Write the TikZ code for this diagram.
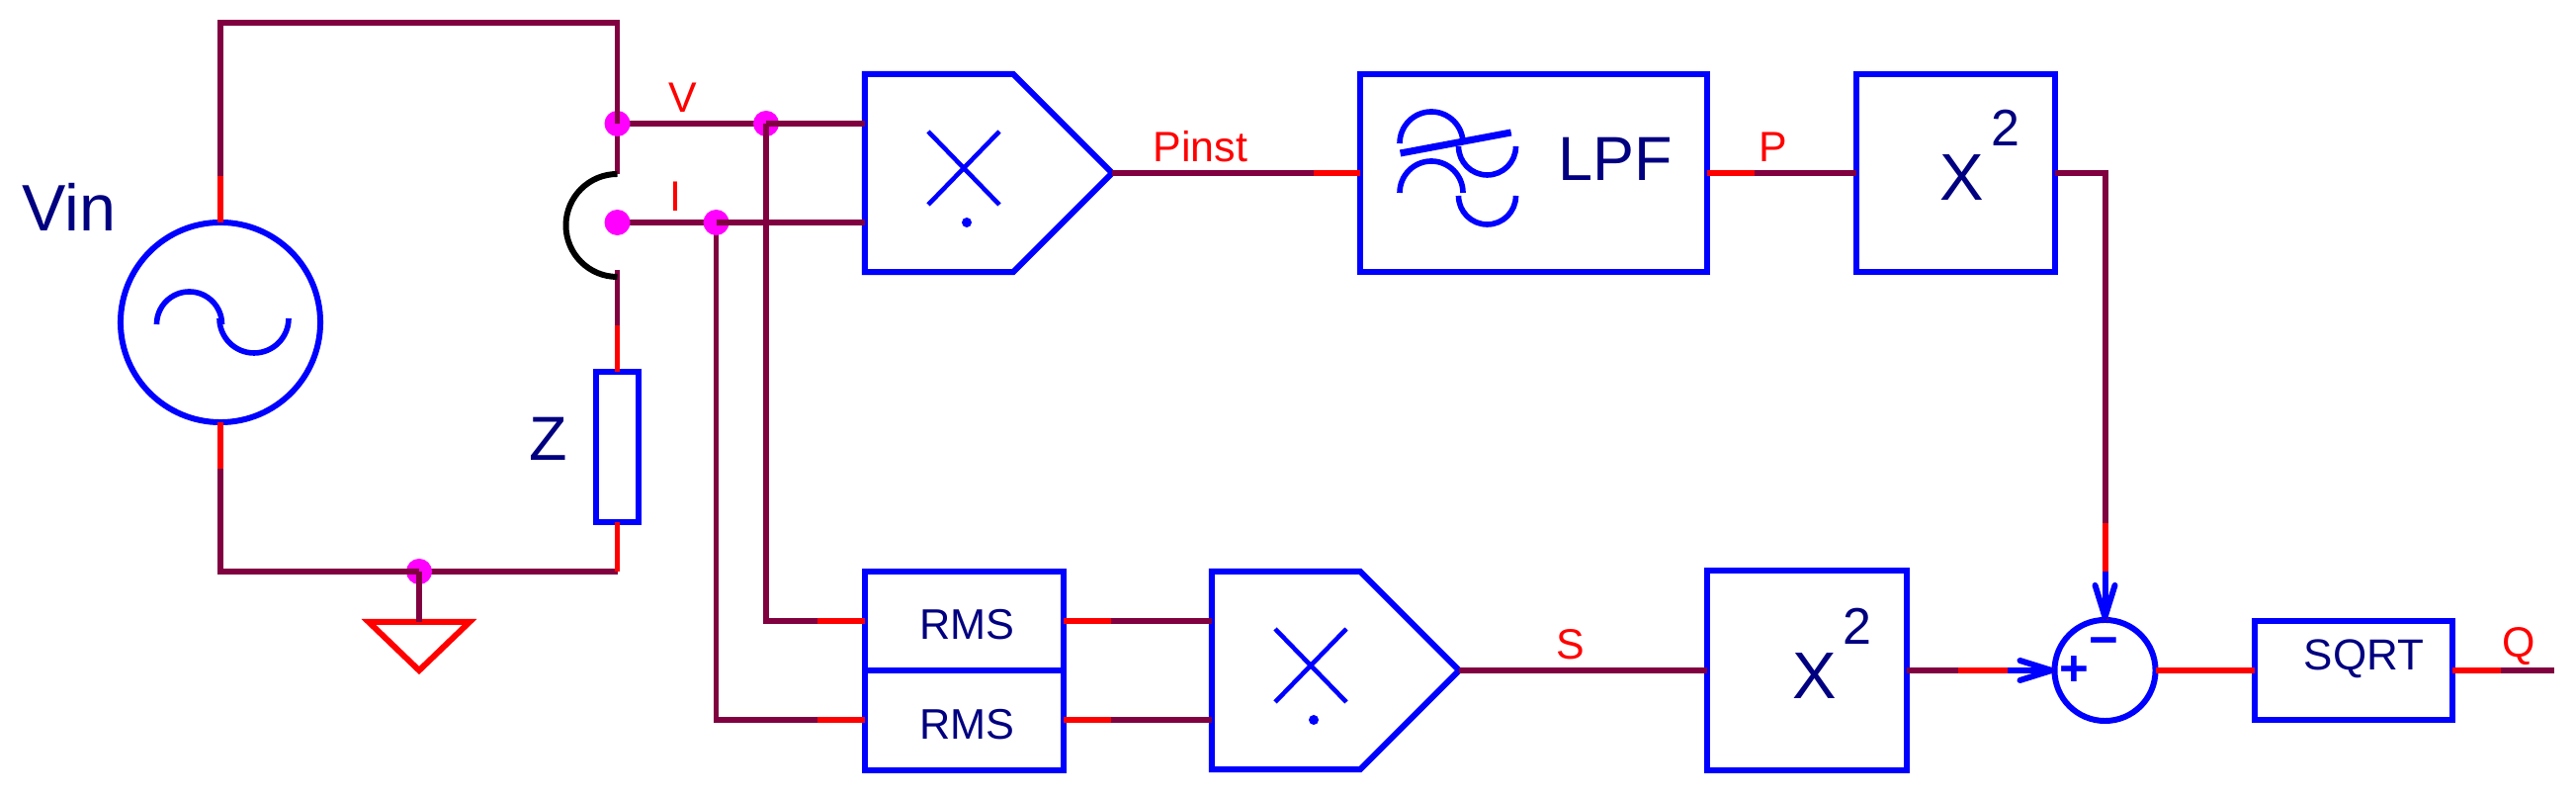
\documentclass[tikz,border=0pt]{standalone}
\usepackage{fontspec}
\setmainfont{Liberation Sans}
\usetikzlibrary{arrows.meta, backgrounds, calc, shapes.symbols}
\definecolor{wirecol}{HTML}{800040}
\definecolor{textcol}{HTML}{000080}
\definecolor{jcol}{HTML}{FF00FF}
\definecolor{pincol}{HTML}{FF0000}
\definecolor{symcol}{HTML}{0000FF}
\tikzset{
	x=0.01cm, y=0.01cm, % one unit is one pixel of the sheet
	wire/.style={draw=wirecol, line width=1.7pt}, % plain connection
	pin/.style={draw=pincol, line width=1.7pt}, % red end of a connection
	feed/.style={draw=symcol, line width=1.7pt, -{Straight Barb[length=0.32cm, width=0.2cm, round]}},
	sym/.style={draw=symcol, line width=1.6pt},
	box/.style={draw=symcol, line width=1.7pt, rectangle, inner sep=0pt, outer sep=0pt},
	mult/.style={draw=symcol, line width=1.7pt, signal, signal to=east, signal pointer angle=90, inner sep=0pt, outer sep=0pt, minimum width=2.5cm, minimum height=2cm},
	ring/.style={draw=symcol, line width=1.7pt, circle, inner sep=0pt, outer sep=0pt},
	jdot/.style={fill=jcol, circle, inner sep=0pt, outer sep=0pt, minimum size=0.26cm},
	siglabel/.style={text=pincol, inner sep=0pt, anchor=base west, font=\fontsize{12.2}{14}\selectfont},
	biglabel/.style={text=textcol, inner sep=0pt, anchor=base west, font=\fontsize{17.9}{20}\selectfont},
	boxlabel/.style={text=textcol, inner sep=0pt, anchor=base west, font=\fontsize{12.3}{14}\selectfont},
	xlabel/.style={text=textcol, inner sep=0pt, anchor=base west, font=\fontsize{19}{22}\selectfont},
	powlabel/.style={text=textcol, inner sep=0pt, anchor=base west, font=\fontsize{14.8}{17}\selectfont},
	signlabel/.style={text=symcol, inner sep=0pt, font=\fontsize{14.5}{17}\selectfont\bfseries},
}
% the cross and the dot inside a multiplier
\newcommand{\multsign}[1]{
	\draw[sym, line width=1.3pt] ($(#1.center)+(-11,42)$) -- ($(#1.center)+(61,-32)$);
	\draw[sym, line width=1.3pt] ($(#1.center)+(61,42)$) -- ($(#1.center)+(-11,-32)$);
	\fill[symcol] ($(#1.center)+(28,-50)$) circle (5);
}

\begin{document}
\begin{tikzpicture}
	\useasboundingbox (0,0) rectangle (2606,807);
	
	% Source and load
	\node[ring, minimum size=2.02cm] (vin) at (223,481) {};
	\node[box, minimum width=0.43cm, minimum height=1.52cm] (z) at (624.5,355) {};
	\node[biglabel, font=\fontsize{18.9}{20}\selectfont] (vinlabel) at (22,573) {Vin};
	\node[biglabel] (zlabel) at (535,341) {Z};
	\draw[sym] (158.5,479) arc (180:0:33);
	\draw[sym] (222,485) arc (180:360:35);
	
	% Junctions
	\node[jdot] (jv) at (624.5,682) {};
	\node[jdot] (ji) at (624.5,582) {};
	\node[jdot] (jv2) at (775,682) {};
	\node[jdot] (ji2) at (724.5,582) {};
	\node[jdot] (jg) at (424,229) {};
	\coordinate (tl) at (223,784);
	\coordinate (tr) at (624.5,784);
	\coordinate (bl) at (223,229);
	\coordinate (br) at (624.5,229);
	\coordinate (gnd) at (424,178);
	\coordinate (arctop) at (624.5,631);
	\coordinate (arcend) at (624.5,534);
	
	% Upper row
	\node[mult] (m1) at (950,632) {};
	\node[box, minimum width=3.51cm, minimum height=2cm] (lpf) at (1551.5,632) {};
	\node[box, minimum width=2.01cm, minimum height=2cm] (sq1) at (1978.5,632) {};
	\multsign{m1}
	\foreach \dy in {0,-50} {
		\draw[sym] (1416,662+\dy) arc (180:0:32);
		\draw[sym] (1475.5,659+\dy) arc (180:360:29);
	}
	\draw[sym, line width=2pt] (1416.6,652) -- (1528.7,673);
	\node[biglabel] (lpflabel) at (1576,624) {LPF};
	\node[xlabel] (x1) at (1962,604) {X};
	\node[powlabel] (p1) at (2014,659) {2};
	
	% Lower row
	\node[box, minimum width=2.01cm, minimum height=1.005cm] (rms1) at (975.5,179) {};
	\node[box, minimum width=2.01cm, minimum height=1.005cm] (rms2) at (975.5,78.5) {};
	\node[mult] (m2) at (1301,129) {};
	\node[box, minimum width=2.02cm, minimum height=2.01cm] (sq2) at (1828,129) {};
	\node[ring, minimum size=1.02cm] (sum) at (2129.5,129) {};
	\node[box, minimum width=2cm, minimum height=1cm] (sqrt) at (2381,129) {};
	\multsign{m2}
	\node[boxlabel] (rms1label) at (930,160) {RMS};
	\node[boxlabel] (rms2label) at (930,59) {RMS};
	\node[boxlabel, font=\fontsize{12.5}{14}\selectfont] (sqrtlabel) at (2330,129) {SQRT};
	\node[xlabel] (x2) at (1813,100) {X};
	\node[powlabel] (p2) at (1864,155) {2};
	\node[signlabel] (plus) at (2098,128) {+};
	\node[signlabel] (minus) at (2128,152) {−};
	
	% Signal names
	\node[siglabel] (vlabel) at (676,693) {V};
	\node[siglabel] (ilabel) at (677,593) {I};
	\node[siglabel] (pinst) at (1166,643) {Pinst};
	\node[siglabel] (plabel) at (1779,643) {P};
	\node[siglabel] (slabel) at (1574,140) {S};
	\node[siglabel] (qlabel) at (2531,142) {Q};
	
	% Wires under the junctions
	\begin{pgfonlayer}{background}
		\draw[wire] (jv.center) -- (arctop);
		\draw[wire] (jv.center) -- (jv2.center);
		\draw[wire] (ji.center) -- (ji2.center);
		\draw[wire] (ji2.center) |- (rms2.west);
		\draw[wire] (jg.center) -- (br);
	\end{pgfonlayer}
	
	% Wires over the junctions
	\draw[wire] (vin.north) -- (tl) -- (tr) -- (jv.center);
	\draw[wire] (vin.south) -- (bl) -- (jg.center);
	\draw[wire] (arcend) -- (z.north);
	\draw[wire] (jv2.center) -- (m1.west|-jv2);
	\draw[wire] (ji2.center) -- (m1.west|-ji2);
	\draw[wire] (jv2.center) |- (rms1.west);
	\draw[wire] (m1.east) -- (lpf.west);
	\draw[wire] (lpf.east) -- (sq1.west);
	\draw[wire] (sq1.east) -| (sum.north);
	\draw[wire] (m2.west|-rms1) -- (rms1.east);
	\draw[wire] (m2.west|-rms2) -- (rms2.east);
	\draw[wire] (m2.east) -- (sq2.west);
	\draw[wire] (sq2.east) -- (sum.west);
	\draw[wire] (sqrt.east) -- ++(103,0) coordinate (qend);
	\draw[black, line width=1.7pt] (arctop) arc (90:270:52);
	
	% Red ends of the wires
	\draw[pin] (vin.north) -- ++(0,47);
	\draw[pin] (vin.south) -- ++(0,-47);
	\draw[pin] (z.north) -- ++(0,47);
	\draw[pin] (z.south) -- (br);
	\draw[pin] (rms1.west) -- ++(-48,0);
	\draw[pin] (rms2.west) -- ++(-48,0);
	\draw[pin] (rms1.east) -- ++(48,0);
	\draw[pin] (rms2.east) -- ++(48,0);
	\draw[pin] (lpf.west) -- ++(-47,0);
	\draw[pin] (lpf.east) -- ++(48,0);
	\draw[pin] (sum.north) ++(0,49) -- ++(0,49);
	\draw[pin] (sum.west) ++(-47,0) -- ++(-50,0);
	\draw[pin] (sum.east) -- (sqrt.west);
	\draw[pin] (sqrt.east) -- ++(49,0);
	
	% Ground
	\draw[pin] ($(gnd)+(-51,0)$) -- ($(gnd)+(51,0)$) -- ($(gnd)+(0,-49)$) -- cycle;
	\draw[wire] (jg.center) -- (gnd);
	
	% Arrows into the summing point
	\draw[feed] ($(sum.north)+(0,49)$) -- (sum.north);
	\draw[feed] ($(sum.west)+(-47,0)$) -- (sum.west);
	
\end{tikzpicture}
\end{document}
